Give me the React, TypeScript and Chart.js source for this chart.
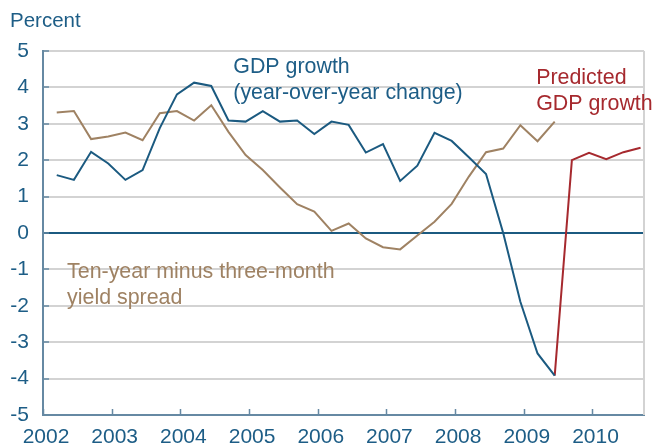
import React, { useEffect, useRef } from "react";
import { Chart, registerables } from "chart.js";

Chart.register(...registerables);

// Quarters (year, quarter)
const gdpQuarters = [
  "2002Q1", "2002Q2", "2002Q3", "2002Q4",
  "2003Q1", "2003Q2", "2003Q3", "2003Q4",
  "2004Q1", "2004Q2", "2004Q3", "2004Q4",
  "2005Q1", "2005Q2", "2005Q3", "2005Q4",
  "2006Q1", "2006Q2", "2006Q3", "2006Q4",
  "2007Q1", "2007Q2", "2007Q3", "2007Q4",
  "2008Q1", "2008Q2", "2008Q3", "2008Q4",
  "2009Q1", "2009Q2",
];
const gdpGrowth = [
  1.59, 1.46, 2.23, 1.91,
  1.46, 1.73, 2.88, 3.81,
  4.13, 4.04, 3.09, 3.06,
  3.35, 3.06, 3.09, 2.72,
  3.06, 2.97, 2.21, 2.44,
  1.43, 1.85, 2.75, 2.53,
  2.08, 1.62, 0.0, -1.89,
  -3.31, -3.92,
];
const yieldSpread = [
  3.31, 3.35, 2.58, 2.65,
  2.76, 2.55, 3.29, 3.35,
  3.09, 3.51, 2.78, 2.14,
  1.73, 1.25, 0.79, 0.59,
  0.06, 0.26, -0.15, -0.39,
  -0.45, -0.07, 0.31, 0.80,
  1.55, 2.22, 2.32, 2.96,
  2.52, 3.06,
];
const predictedQuarters = ["2009Q2", "2009Q3", "2009Q4", "2010Q1", "2010Q2", "2010Q3"];
const predictedGrowth = [-3.92, 2.0, 2.2, 2.03, 2.22, 2.34];

const yearTicks = [2002, 2003, 2004, 2005, 2006, 2007, 2008, 2009, 2010];

const BLUE = "#1b5a80";
const TEXT_BLUE = "#1d5d86";
const AXIS = "#6689a3";
const BROWN = "#9f8263";
const RED = "#a6292e";
const GRID = "#d3d3d3";
const FONT = "'Liberation Sans', Arial, sans-serif";

const qToX = (q: string) => {
  const year = parseInt(q.slice(0, 4), 10);
  const quarter = parseInt(q.slice(5), 10);
  return year + (quarter - 1) * 0.25 + 0.2;
};

const toPoints = (qs: string[], vals: number[]) => qs.map((q, i) => ({ x: qToX(q), y: vals[i] }));

// annotation anchors in data coordinates
const labels = [
  { lines: ["GDP growth", "(year-over-year change)"], x: 2004.77, y: 4.4, color: TEXT_BLUE },
  { lines: ["Predicted", "GDP growth"], x: 2009.18, y: 4.09, color: RED },
  { lines: ["Ten-year minus three-month", "yield spread"], x: 2002.35, y: -1.245, color: BROWN },
];

const decorPlugin = {
  id: "decor",
  afterDraw(chart: any) {
    const { ctx, chartArea, scales } = chart;
    const xs = scales.x;
    const ys = scales.y;
    ctx.save();
    // right border
    ctx.strokeStyle = GRID;
    ctx.lineWidth = 2;
    ctx.beginPath();
    ctx.moveTo(chartArea.right, chartArea.top);
    ctx.lineTo(chartArea.right, chartArea.bottom);
    ctx.stroke();
    // inside tick marks
    ctx.strokeStyle = AXIS;
    ctx.lineWidth = 1.5;
    ctx.beginPath();
    yearTicks.forEach((yr) => {
      const px = Math.round(xs.getPixelForValue(yr)) + 0.5;
      ctx.moveTo(px, chartArea.bottom);
      ctx.lineTo(px, chartArea.bottom - 6);
    });
    for (let v = -5; v <= 5; v++) {
      const py = Math.round(ys.getPixelForValue(v));
      ctx.moveTo(chartArea.left, py);
      ctx.lineTo(chartArea.left + 6, py);
    }
    ctx.stroke();
    // title
    ctx.fillStyle = TEXT_BLUE;
    ctx.font = `20.5px ${FONT}`;
    ctx.textBaseline = "alphabetic";
    ctx.textAlign = "left";
    ctx.fillText("Percent", 10, 26.7);
    // annotations
    ctx.font = `21.4px ${FONT}`;
    labels.forEach((l) => {
      const px = xs.getPixelForValue(l.x);
      const py = ys.getPixelForValue(l.y);
      ctx.fillStyle = l.color;
      l.lines.forEach((t, i) => ctx.fillText(t, px, py + i * 26));
    });
    ctx.restore();
  },
};

export default function App() {
  const ref = useRef<HTMLCanvasElement | null>(null);
  useEffect(() => {
    if (!ref.current) return;
    const chart = new Chart(ref.current, {
      type: "line",
      data: {
        datasets: [
          {
            label: "GDP growth",
            data: toPoints(gdpQuarters, gdpGrowth),
            borderColor: BLUE,
            borderWidth: 2,
            pointRadius: 0,
            tension: 0,
          },
          {
            label: "Predicted",
            data: toPoints(predictedQuarters, predictedGrowth),
            borderColor: RED,
            borderWidth: 2,
            pointRadius: 0,
            tension: 0,
          },
          {
            label: "Spread",
            data: toPoints(gdpQuarters, yieldSpread),
            borderColor: BROWN,
            borderWidth: 2,
            pointRadius: 0,
            tension: 0,
          },
        ],
      },
      options: {
        animation: false,
        responsive: false,
        maintainAspectRatio: false,
        layout: { padding: { top: 51, right: 8, bottom: 0, left: 0 } },
        plugins: { legend: { display: false }, tooltip: { enabled: false } },
        scales: {
          x: {
            type: "linear",
            min: 2002,
            max: 2010.75,
            afterFit: (s: any) => {
              s.height = 32;
            },
            afterBuildTicks: (s: any) => {
              s.ticks = yearTicks.map((v) => ({ value: v }));
            },
            ticks: {
              color: TEXT_BLUE,
              font: { family: FONT, size: 21 },
              padding: 10,
              labelOffset: 3,
              maxRotation: 0,
              autoSkip: false,
              callback: (v: any) => String(v),
            },
            grid: { display: false, drawTicks: false },
            border: { display: true, color: AXIS, width: 2 },
          },
          y: {
            type: "linear",
            min: -5,
            max: 5,
            afterFit: (s: any) => {
              s.width = 43;
            },
            ticks: {
              stepSize: 1,
              color: TEXT_BLUE,
              font: { family: FONT, size: 21 },
              padding: 14,
            },
            grid: {
              drawTicks: false,
              color: (c: any) => (c.tick && c.tick.value === 0 ? BLUE : c.tick && c.tick.value === -5 ? "rgba(0,0,0,0)" : GRID),
              lineWidth: (c: any) => 2,
            },
            border: { display: true, color: AXIS, width: 2 },
          },
        },
      },
      plugins: [decorPlugin],
    });
    return () => chart.destroy();
  }, []);
  return (
    <div style={{ position: "absolute", left: 0, top: 0, width: 652, height: 447 }}>
      <canvas ref={ref} width={652} height={447} style={{ display: "block" }} />
    </div>
  );
}
